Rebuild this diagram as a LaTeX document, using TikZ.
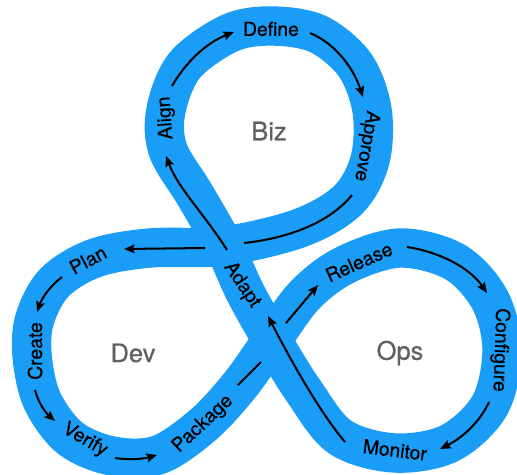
\documentclass[tikz,border=0pt]{standalone}
\usepackage{fontspec}
\setmainfont[FakeBold=0.6]{TeX Gyre Heros}
\usetikzlibrary{arrows.meta}
\definecolor{bandblue}{RGB}{25,157,246}
\definecolor{hubgray}{RGB}{96,96,96}

\begin{document}
\begin{tikzpicture}[x=0.02cm, y=-0.02cm,
  band/.style={line width=22.4pt, bandblue, line join=round},
  flow/.style={line width=1.15pt, -{Stealth[length=6pt,width=5pt,inset=1pt]}},
  gapline/.style={line width=1.15pt},
  lbl/.style={font=\fontsize{11}{13}\selectfont, inner sep=1pt},
  hub/.style={font=\fontsize{14.5}{17}\selectfont, text=hubgray}]
\useasboundingbox (0,0) rectangle (517,474);

% Band (one closed loop, crossing itself twice)
\draw[band] plot[smooth cycle, tension=0.55] coordinates {
  (224,246) (150,248) (95,258) (55,282) (35,318) (32,355) (42,400)
  (70,438) (112,456) (158,455) (203,425) (240,385) (272,340)
  (305,295) (345,265) (400,248) (455,262) (490,300) (502,350)
  (490,405) (450,443) (395,453) (340,437) (303,390) (272,340)
  (245,292) (224,246) (195,195) (168,150) (166,110) (185,65)
  (230,33) (272,26) (318,34) (355,65) (372,110) (370,160)
  (348,200) (300,228)};

% Loop names
\node[hub] (biz) at (269,131) {Biz};
\node[hub] (dev) at (133,353) {Dev};
\node[hub] (ops) at (400,353) {Ops};

% Steps
\node[lbl] (define) at (271,29) {Define};
\node[lbl, rotate=-100] (approve) at (366,146) {Approve};
\node[lbl, rotate=28] (plan) at (88,260) {Plan};
\node[lbl, rotate=90] (create) at (35,351) {Create};
\node[lbl, rotate=-30] (verify) at (85,440) {Verify};
\node[lbl, rotate=43] (package) at (203,424) {Package};
\node[lbl, rotate=24] (release) at (359,262) {Release};
\node[lbl, rotate=-92] (configure) at (500,350) {Configure};
\node[lbl, rotate=-7] (monitor) at (395,450) {Monitor};
\node[lbl, rotate=-56] (adapt) at (242,285) {Adapt};
\node[lbl, rotate=94] (align) at (166,118) {Align};

% Arrow ends along the band
\coordinate (alignOut) at (172,86);
\coordinate (defineIn) at (234,32);
\coordinate (defineOut) at (310,33);
\coordinate (approveIn) at (363,97);
\coordinate (approveOut) at (352,195);
\coordinate (gapAR) at (244,243);
\coordinate (gapAL) at (205,248);
\coordinate (planIn) at (124,249);
\coordinate (planOut) at (62,277);
\coordinate (createIn) at (37,312);
\coordinate (createOut) at (35,390);
\coordinate (verifyIn) at (55,421);
\coordinate (verifyOut) at (115,458);
\coordinate (packageIn) at (157,455);
\coordinate (packageOut) at (238,385);
\coordinate (gapBL) at (261,362);
\coordinate (gapBR) at (286,323);
\coordinate (releaseIn) at (318,285);
\coordinate (releaseOut) at (407,247);
\coordinate (configureIn) at (487,293);
\coordinate (configureOut) at (489,402);
\coordinate (monitorIn) at (440,449);
\coordinate (monitorOut) at (345,442);
\coordinate (adaptIn) at (268,316);
\coordinate (adaptOut) at (227,250);
\coordinate (alignIn) at (166,156);

% Flow
\draw[flow] (alignOut) .. controls (186,62) and (206,43) .. (defineIn);
\draw[flow] (defineOut) .. controls (332,42) and (352,64) .. (approveIn);
\draw[gapline] (approveOut) .. controls (330,222) and (290,238) .. (gapAR);
\draw[flow] (gapAL) -- (planIn);
\draw[flow] (planOut) .. controls (50,286) and (42,298) .. (createIn);
\draw[flow] (createOut) .. controls (38,402) and (45,412) .. (verifyIn);
\draw[flow] (verifyOut) .. controls (128,460) and (143,459) .. (packageIn);
\draw[gapline] (packageOut) -- (gapBL);
\draw[flow] (gapBR) -- (releaseIn);
\draw[flow] (releaseOut) .. controls (440,252) and (470,268) .. (configureIn);
\draw[flow] (configureOut) .. controls (480,422) and (462,438) .. (monitorIn);
\draw[flow] (monitorOut) .. controls (318,410) and (288,355) .. (adaptIn);
\draw[flow] (adaptOut) .. controls (205,215) and (178,188) .. (alignIn);
\end{tikzpicture}
\end{document}
